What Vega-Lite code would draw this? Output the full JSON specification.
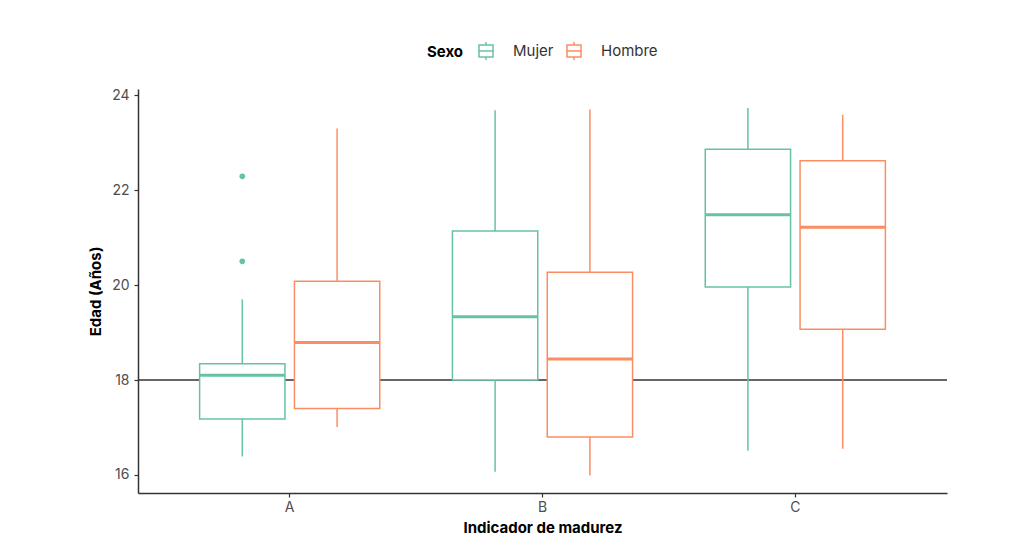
{
  "$schema": "https://vega.github.io/schema/vega-lite/v6.json",
  "autosize": {"type": "none"},
  "width": 809,
  "height": 404,
  "padding": {"left": 138, "top": 89, "right": 67, "bottom": 57},
  "background": "white",
  "datasets": {
    "stats": [
      {"ind": "A", "sexo": "Mujer", "lo": 16.39, "q1": 17.18, "med": 18.10, "q3": 18.34, "hi": 19.70},
      {"ind": "A", "sexo": "Hombre", "lo": 17.01, "q1": 17.40, "med": 18.79, "q3": 20.08, "hi": 23.30},
      {"ind": "B", "sexo": "Mujer", "lo": 16.07, "q1": 18.00, "med": 19.33, "q3": 21.14, "hi": 23.68},
      {"ind": "B", "sexo": "Hombre", "lo": 15.99, "q1": 16.80, "med": 18.44, "q3": 20.27, "hi": 23.70},
      {"ind": "C", "sexo": "Mujer", "lo": 16.51, "q1": 19.96, "med": 21.48, "q3": 22.86, "hi": 23.73},
      {"ind": "C", "sexo": "Hombre", "lo": 16.55, "q1": 19.07, "med": 21.22, "q3": 22.62, "hi": 23.59}
    ],
    "outliers": [
      {"ind": "A", "sexo": "Mujer", "edad": 22.29},
      {"ind": "A", "sexo": "Mujer", "edad": 20.50}
    ]
  },
  "config": {
    "font": "Inter",
    "view": {"stroke": null},
    "legend": {"layout": {"top": {"anchor": "middle"}}},
    "axis": {"grid": false, "domainColor": "#333333", "domainWidth": 1.5, "tickColor": "#333333", "tickWidth": 1.2, "tickSize": 4, "labelColor": "#4D4D4D", "labelFontSize": 14, "titleColor": "#000000", "titleFontWeight": "bold", "titleFontSize": 15, "labelFont": "Inter", "titleFont": "Inter"}
  },
  "encoding": {
    "x": {
      "field": "ind", "type": "nominal",
      "scale": {"domain": ["A", "B", "C"], "paddingInner": 0.25, "paddingOuter": 0.225},
      "axis": {"title": "Indicador de madurez", "labelAngle": 0, "labelPadding": 3, "titlePadding": 6}
    },
    "xOffset": {
      "field": "sexo", "type": "nominal",
      "scale": {"domain": ["Mujer", "Hombre"], "paddingInner": 0.1, "paddingOuter": 0.05}
    }
  },
  "layer": [
    {
      "mark": {"type": "rule", "color": "#333333", "strokeWidth": 1.5},
      "encoding": {"x": null, "xOffset": null, "y": {"datum": 18}},
      "data": {"values": [{}]}
    },
    {
      "data": {"name": "stats"},
      "mark": {"type": "rule", "strokeWidth": 1.5},
      "encoding": {
        "y": {"field": "lo", "type": "quantitative", "scale": {"domain": [15.62, 24.13], "nice": false, "zero": false}, "axis": {"title": "Edad (Años)", "values": [16, 18, 20, 22, 24], "labelPadding": 5, "titlePadding": 8}},
        "y2": {"field": "hi"},
        "color": {
          "field": "sexo", "type": "nominal",
          "scale": {"domain": ["Mujer", "Hombre"], "range": ["#66C2A5", "#FC8D62"]},
          "legend": {
            "title": "Sexo", "orient": "top", "direction": "horizontal", "titleOrient": "left",
            "titleFontSize": 15, "titleFontWeight": "bold", "titleColor": "#000000", "titlePadding": 11,
            "labelFontSize": 15, "labelColor": "#333333", "labelOffset": 16,
            "symbolType": "M-0.7,-0.6H0.7V0.6H-0.7Z M-0.7,0H0.7 M0,-0.6V-0.9 M0,0.6V0.9",
            "symbolSize": 400, "symbolStrokeWidth": 1.5, "symbolFillColor": "white",
            "columnPadding": 9, "offset": 26,
            "encode": {
              "symbols": {
                "update": {
                  "size": {"value": 400},
                  "shape": {"value": "M-0.7,-0.6H0.7V0.6H-0.7Z M-0.7,0H0.7 M0,-0.6V-0.9 M0,0.6V0.9"},
                  "strokeWidth": {"value": 1.5},
                  "fill": {"value": "white"}
                }
              }
            }
          }
        }
      }
    },
    {
      "data": {"name": "stats"},
      "mark": {"type": "bar", "filled": false, "fill": "white", "strokeWidth": 1.5},
      "encoding": {
        "y": {"field": "q1", "type": "quantitative"},
        "y2": {"field": "q3"},
        "color": {"field": "sexo", "type": "nominal"}
      }
    },
    {
      "data": {"name": "stats"},
      "mark": {"type": "bar", "filled": false, "strokeWidth": 3},
      "encoding": {
        "y": {"field": "med", "type": "quantitative"},
        "y2": {"field": "med"},
        "color": {"field": "sexo", "type": "nominal"}
      }
    },
    {
      "data": {"name": "outliers"},
      "mark": {"type": "point", "filled": true, "size": 32, "opacity": 1, "color": "#66C2A5"},
      "encoding": {
        "y": {"field": "edad", "type": "quantitative"}
      }
    }
  ]
}
